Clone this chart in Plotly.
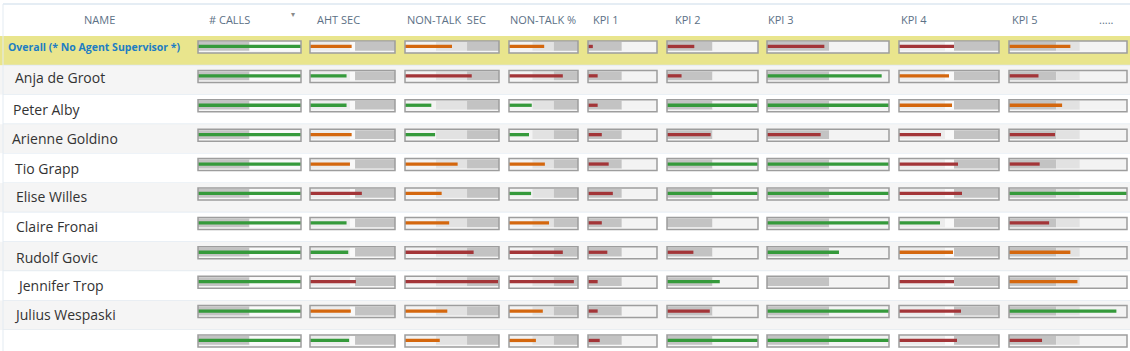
import plotly.graph_objects as go

# ---------------- data ----------------
names = ["Overall (* No Agent Supervisor *)", "Anja de Groot", "Peter Alby", "Arienne Goldino",
         "Tio Grapp", "Elise Willes", "Claire Fronai", "Rudolf Govic", "Jennifer Trop",
         "Julius Wespaski", ""]
columns = ["# CALLS", "AHT SEC", "NON-TALK  SEC", "NON-TALK %", "KPI 1", "KPI 2", "KPI 3", "KPI 4", "KPI 5"]

# values as % of each bullet's scale
calls_vals = [100, 100, 100, 100, 100, 100, 100, 100, 100, 100, 100]
aht_vals = [49, 43, 43, 49, 47, 61, 43, 45, 54, 48, 46]
ntsec_vals = [50, 71, 28, 32, 56, 39, 47, 73, 99, 45, 37]
ntpct_vals = [51, 78, 33, 29, 52, 32, 58, 78, 94, 49, 39]
kpi1_vals = [7, 14, 14, 20, 30, 36, 20, 28, 14, 14, 17]
kpi2_vals = [30, 16, 100, 48, 100, 100, None, 29, 58, 47, 100]
kpi3_vals = [47, 94, 100, 44, 100, 100, 100, 59, None, 100, 100]
kpi4_vals = [55, 50, 53, 42, 59, 63, 41, 54, 55, 62, 58]
kpi5_vals = [52, 25, 45, 39, 26, 100, 34, 52, 58, 91, 28]

# status of each value: g = on target, o = warning, r = bad
calls_status = ["g"] * 11
aht_status = ["o", "g", "g", "o", "o", "r", "g", "g", "r", "o", "g"]
ntsec_status = ["o", "r", "g", "g", "o", "o", "o", "r", "r", "o", "o"]
ntpct_status = ["o", "r", "g", "g", "o", "g", "o", "r", "r", "o", "o"]
kpi1_status = ["r"] * 11
kpi2_status = ["r", "r", "g", "r", "g", "g", "g", "r", "g", "r", "g"]
kpi3_status = ["r", "g", "g", "r", "g", "g", "g", "g", "g", "g", "g"]
kpi4_status = ["r", "o", "o", "r", "r", "r", "g", "o", "r", "r", "r"]
kpi5_status = ["o", "r", "o", "r", "r", "g", "r", "o", "o", "g", "r"]

# qualitative range edges (% of scale) and their shade level
calls_bands = [0, 50, 100];        calls_shades = ["dark", "white"]
aht_bands = [0, 47, 53, 100];      aht_shades = ["light", "white", "dark"]
ntsec_bands = [0, 33, 66, 100];    ntsec_shades = ["pale", "mid", "dark"]
ntpct_bands = [0, 34, 65, 100];    ntpct_shades = ["pale", "mid", "dark"]
kpi1_bands = [0, 49, 100];         kpi1_shades = ["dark", "pale"]
kpi2_bands = [0, 50, 100];         kpi2_shades = ["dark", "pale"]
kpi3_bands = [0, 51, 100];         kpi3_shades = ["dark", "pale"]
kpi4_bands = [0, 46, 55, 100];     kpi4_shades = ["light", "white", "dark"]
kpi5_bands = [0, 40, 60, 100];     kpi5_shades = ["dark", "mid", "pale"]

col_vals = [calls_vals, aht_vals, ntsec_vals, ntpct_vals, kpi1_vals, kpi2_vals, kpi3_vals, kpi4_vals, kpi5_vals]
col_status = [calls_status, aht_status, ntsec_status, ntpct_status, kpi1_status, kpi2_status,
              kpi3_status, kpi4_status, kpi5_status]
col_bands = [calls_bands, aht_bands, ntsec_bands, ntpct_bands, kpi1_bands, kpi2_bands, kpi3_bands,
             kpi4_bands, kpi5_bands]
col_shades = [calls_shades, aht_shades, ntsec_shades, ntpct_shades, kpi1_shades, kpi2_shades,
              kpi3_shades, kpi4_shades, kpi5_shades]

# ---------------- layout / style ----------------
W, H = 1130, 351
PITCH = 29.4
FIRST = 47.0
box_px = [(198, 301), (310, 395), (405, 499), (509, 578), (588, 657), (667, 758), (767, 889),
          (899, 999), (1009, 1127)]
header_px = [207, 315, 405, 508, 591, 673, 766, 899, 1010]

shade_col = {"dark": "#c3c3c3", "mid": "#e2e2e2", "light": "#ececec", "pale": "#f3f3f3", "white": "#f9f9f9"}
status_col = {"g": "#359a3b", "o": "#d4670e", "r": "#a33538"}


def ypx(p):
    return (p - FIRST) / PITCH


def hpx(p):
    return p / PITCH


rows = list(range(len(names)))
fig = go.Figure()
layout_axes = {}
PAD = 3
for j, (x0, x1) in enumerate(box_px):
    w = x1 - x0
    xa = "x" if j == 0 else f"x{j+1}"
    key = "xaxis" if j == 0 else f"xaxis{j+1}"
    layout_axes[key] = dict(domain=[(x0 - PAD) / W, (x1 + PAD) / W],
                            range=[-PAD * 100 / w, 100 + PAD * 100 / w],
                            visible=False, anchor="y", fixedrange=True)
    # box fill
    fig.add_trace(go.Bar(y=rows, x=[100] * len(rows), base=0, orientation="h", xaxis=xa, yaxis="y",
                         width=hpx(12), offset=-hpx(6), marker=dict(color="#f6f6f6", line=dict(width=0)),
                         hoverinfo="skip", showlegend=False))
    # qualitative bands
    edges = col_bands[j]
    for k, sh in enumerate(col_shades[j]):
        fig.add_trace(go.Bar(y=rows, x=[edges[k + 1] - edges[k]] * len(rows), base=edges[k],
                             orientation="h", xaxis=xa, yaxis="y",
                             width=hpx(8.8), offset=-hpx(5),
                             marker=dict(color=shade_col[sh], line=dict(width=0)),
                             hoverinfo="skip", showlegend=False))
    # measured value
    vals = col_vals[j]
    fig.add_trace(go.Bar(y=rows, x=vals, base=0, orientation="h", xaxis=xa, yaxis="y",
                         width=hpx(3.3), offset=-hpx(2.2),
                         marker=dict(color=[status_col[s] for s in col_status[j]], line=dict(width=0)),
                         hoverinfo="skip", showlegend=False))
    # box outline
    fig.add_trace(go.Bar(y=rows, x=[100] * len(rows), base=0, orientation="h", xaxis=xa, yaxis="y",
                         width=hpx(12), offset=-hpx(6),
                         marker=dict(color="rgba(0,0,0,0)", line=dict(color="#9d9d9d", width=1.5)),
                         hoverinfo="skip", showlegend=False))

shapes = []
for i in rows:
    top = ypx(FIRST + i * PITCH - 11)
    bot = ypx(FIRST + i * PITCH + 18.4)
    if i == 0:
        fill = "#e9e58d"
    elif i % 2 == 1:
        fill = "#f5f5f5"
    else:
        fill = "#ffffff"
    shapes.append(dict(type="rect", xref="paper", yref="y", x0=0, x1=1, y0=top, y1=bot,
                       fillcolor=fill, line=dict(width=0), layer="below"))
    shapes.append(dict(type="line", xref="paper", yref="y", x0=3 / W, x1=1, y0=bot, y1=bot,
                       line=dict(color="#dde7f0", width=1.2), layer="below"))
shapes.append(dict(type="line", xref="paper", yref="y", x0=3 / W, x1=1, y0=ypx(4), y1=ypx(4),
                   line=dict(color="#dde7f0", width=1.5), layer="below"))
shapes.append(dict(type="line", xref="paper", yref="y", x0=3 / W, x1=3 / W, y0=ypx(4), y1=ypx(351),
                   line=dict(color="#e3ebf2", width=1), layer="below"))

annotations = []
hdr_font = dict(family="Open Sans", size=11, color="#5c7186")
annotations.append(dict(text="NAME", x=99 / W, xref="paper", y=ypx(19), yref="y",
                        xanchor="center", yanchor="middle", showarrow=False, font=hdr_font))
for j, c in enumerate(columns):
    annotations.append(dict(text=c, x=header_px[j] / W, xref="paper", y=ypx(19), yref="y",
                            xanchor="left", yanchor="middle", showarrow=False, font=hdr_font))
annotations.append(dict(text=".....", x=1097 / W, xref="paper", y=ypx(19), yref="y",
                        xanchor="left", yanchor="middle", showarrow=False, font=hdr_font))
annotations.append(dict(text="▾", x=293 / W, xref="paper", y=ypx(14), yref="y",
                        xanchor="center", yanchor="middle", showarrow=False,
                        font=dict(family="DejaVu Sans", size=8, color="#8a8a8a")))

name_x = [6, 13, 11, 10, 13, 14, 14, 14, 15, 12, 13]
name_dy = [0, 1, 4, 3, 4, 2, 3, 5, 3, 3, 2]
for i, n in enumerate(names):
    if i == 0:
        annotations.append(dict(text="<b>" + n + "</b>", x=name_x[i] / W, xref="paper", y=i, yref="y",
                                xanchor="left", yanchor="middle", showarrow=False,
                                font=dict(family="Open Sans", size=10.5, color="#1d7dc3")))
    else:
        annotations.append(dict(text=n, x=name_x[i] / W, xref="paper", y=ypx(FIRST + i * PITCH + name_dy[i]),
                                yref="y", xanchor="left", yanchor="middle", showarrow=False,
                                font=dict(family="Open Sans", size=14, color="#333333")))

fig.update_layout(
    width=W, height=H, margin=dict(l=0, r=0, t=0, b=0),
    paper_bgcolor="#ffffff", plot_bgcolor="rgba(0,0,0,0)",
    barmode="overlay", showlegend=False,
    yaxis=dict(range=[ypx(H), ypx(0)], visible=False, domain=[0, 1], fixedrange=True),
    shapes=shapes, annotations=annotations,
    **layout_axes,
)
fig.write_html("out.html", config={"displayModeBar": False})
